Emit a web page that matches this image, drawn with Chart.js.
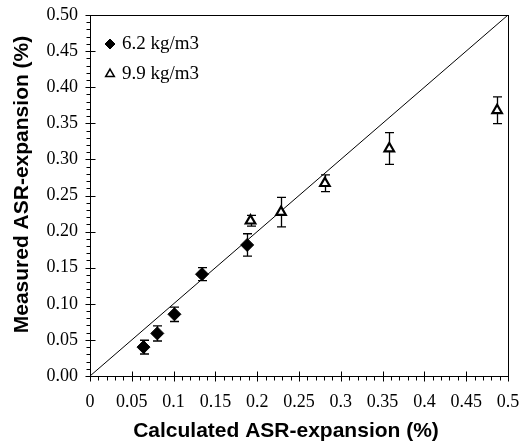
<!DOCTYPE html>
<html>
<head>
<meta charset="utf-8">
<script src="https://cdn.jsdelivr.net/npm/chart.js@4.4.1/dist/chart.umd.min.js"></script>
<style>
  html, body { margin: 0; padding: 0; background: #fff; }
  #wrap { width: 519px; height: 446px; }
</style>
</head>
<body>
<div id="wrap"><canvas id="asr-chart" width="519" height="446"></canvas></div>
<script>
// calculated vs measured ASR expansion, two aggregate contents
const calc62 = [0.064, 0.0805, 0.101, 0.134, 0.188];
const meas62 = [0.040, 0.059, 0.0855, 0.141, 0.1815];
const err62 = [0.0095, 0.0105, 0.010, 0.009, 0.0155];

const calc99 = [0.192, 0.2285, 0.281, 0.358, 0.487];
const meas99 = [0.215, 0.227, 0.267, 0.315, 0.368];
const err99 = [0.0075, 0.0205, 0.0115, 0.022, 0.0185];

const xTickLabels = ['0', '0.05', '0.1', '0.15', '0.2', '0.25', '0.3', '0.35', '0.4', '0.45', '0.5'];
const yTickLabels = ['0.00', '0.05', '0.10', '0.15', '0.20', '0.25', '0.30', '0.35', '0.40', '0.45', '0.50'];

const xTitle = 'Calculated ASR-expansion (%)';
const yTitle = 'Measured ASR-expansion (%)';

const serif = "'Liberation Serif', 'Times New Roman', serif";
const sans = "'Liberation Sans', Arial, sans-serif";

function toPoints(xs, ys, es) {
  return xs.map((x, i) => ({ x: x, y: ys[i], err: es ? es[i] : 0 }));
}

// frame, crossing ticks, error bars, axis titles and the legend box
const decorations = {
  id: 'decorations',
  beforeDatasetsDraw(chart) {
    const ctx = chart.ctx;
    const xs = chart.scales.x, ys = chart.scales.y;
    ctx.save();
    ctx.strokeStyle = '#000';
    ctx.lineWidth = 1.3;
    chart.data.datasets.forEach(ds => {
      if (!ds.errorBars) return;
      ds.data.forEach(p => {
        const px = Math.round(xs.getPixelForValue(p.x)) + 0.5;
        const top = ys.getPixelForValue(p.y + p.err);
        const bot = ys.getPixelForValue(p.y - p.err);
        ctx.beginPath();
        ctx.moveTo(px, top); ctx.lineTo(px, bot);
        ctx.moveTo(px - 4.5, top); ctx.lineTo(px + 4.5, top);
        ctx.moveTo(px - 4.5, bot); ctx.lineTo(px + 4.5, bot);
        ctx.stroke();
      });
    });
    ctx.restore();
  },
  afterDraw(chart) {
    const ctx = chart.ctx;
    const a = chart.chartArea;
    const xs = chart.scales.x, ys = chart.scales.y;
    ctx.save();
    ctx.strokeStyle = '#000';
    ctx.lineWidth = 1;
    ctx.strokeRect(Math.round(a.left) + 0.5, Math.round(a.top) + 0.5,
      Math.round(a.right - a.left), Math.round(a.bottom - a.top));

    ctx.beginPath();
    for (let i = 0; i <= 50; i++) {
      const v = i / 100;
      const major = i % 5 === 0;
      const px = Math.round(xs.getPixelForValue(v)) + 0.5;
      const py = Math.round(ys.getPixelForValue(v)) + 0.5;
      const b = Math.round(a.bottom) + 0.5;
      const l = Math.round(a.left) + 0.5;
      if (major) {
        ctx.moveTo(px, b - 5); ctx.lineTo(px, b + 5);
        ctx.moveTo(l - 5, py); ctx.lineTo(l + 5, py);
      } else {
        ctx.moveTo(px, b); ctx.lineTo(px, b + 4);
        ctx.moveTo(l - 4, py); ctx.lineTo(l, py);
      }
    }
    ctx.stroke();

    // axis titles, set a little off the plot centre
    ctx.fillStyle = '#000';
    ctx.font = 'bold 21px ' + sans;
    ctx.textAlign = 'center';
    ctx.textBaseline = 'alphabetic';
    ctx.fillText(xTitle, (a.left + a.right) / 2 - 13, 437);
    ctx.save();
    ctx.translate(28, (a.top + a.bottom) / 2 - 11);
    ctx.rotate(-Math.PI / 2);
    ctx.fillText(yTitle, 0, 0);
    ctx.restore();

    // legend in the upper left corner of the plot
    let ly = a.top + 29;
    chart.data.datasets.forEach(ds => {
      if (!ds.label) return;
      ctx.fillStyle = ds.backgroundColor;
      ctx.strokeStyle = '#000';
      ctx.lineWidth = ds.legendBorder;
      Chart.helpers.drawPoint(ctx, {
        pointStyle: ds.pointStyle, radius: ds.legendRadius, rotation: 0, borderWidth: ds.legendBorder
      }, a.left + 20, ly);
      ctx.fillStyle = '#000';
      ctx.font = '19px ' + serif;
      ctx.textBaseline = 'middle';
      ctx.textAlign = 'left';
      ctx.fillText(ds.label, a.left + 32, ly);
      ly += 30;
    });
    ctx.restore();
  }
};

new Chart(document.getElementById('asr-chart'), {
  type: 'scatter',
  data: {
    datasets: [
      {
        // 1:1 line
        type: 'line',
        label: '',
        data: [{ x: 0, y: 0 }, { x: 0.5, y: 0.5 }],
        borderColor: '#000',
        borderWidth: 1,
        pointRadius: 0,
        fill: false,
        order: 3
      },
      {
        label: '6.2 kg/m3',
        data: toPoints(calc62, meas62, err62),
        errorBars: true,
        pointStyle: 'rectRot',
        pointRadius: 6.5,
        backgroundColor: '#000',
        borderColor: '#000',
        borderWidth: 1,
        legendRadius: 5,
        legendBorder: 1,
        order: 1
      },
      {
        label: '9.9 kg/m3',
        data: toPoints(calc99, meas99, err99),
        errorBars: true,
        pointStyle: 'triangle',
        pointRadius: 5.5,
        backgroundColor: '#fff',
        borderColor: '#000',
        borderWidth: 2.2,
        legendRadius: 5,
        legendBorder: 1.5,
        order: 2
      }
    ]
  },
  options: {
    responsive: false,
    animation: false,
    layout: { padding: { top: 15, right: 11, left: 0, bottom: 0 } },
    plugins: {
      legend: { display: false },
      tooltip: { enabled: false }
    },
    scales: {
      x: {
        type: 'linear',
        min: 0,
        max: 0.5,
        grid: { display: false, drawTicks: false },
        border: { display: false },
        afterFit(scale) {
          scale.height = 70;
          scale.paddingLeft = 0;
          scale.paddingRight = 0;
        },
        ticks: {
          stepSize: 0.05,
          padding: 15,
          color: '#000',
          font: { family: serif, size: 18 },
          maxRotation: 0,
          callback: (v, i) => xTickLabels[i]
        }
      },
      y: {
        type: 'linear',
        min: 0,
        max: 0.5,
        grid: { display: false, drawTicks: false },
        border: { display: false },
        afterFit(scale) {
          scale.width = 90;
          scale.paddingTop = 0;
          scale.paddingBottom = 0;
        },
        ticks: {
          stepSize: 0.05,
          padding: 12,
          color: '#000',
          font: { family: serif, size: 18 },
          callback: (v, i) => yTickLabels[i]
        }
      }
    }
  },
  plugins: [decorations]
});
</script>
</body>
</html>
